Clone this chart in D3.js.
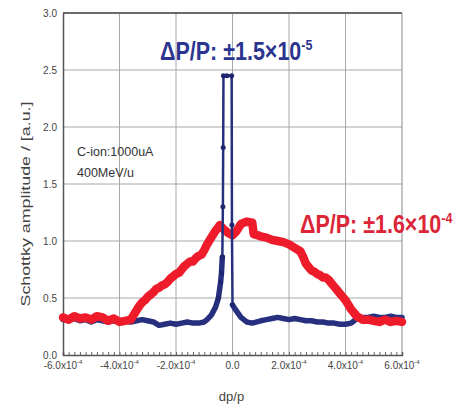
<!DOCTYPE html>
<html>
<head>
<meta charset="utf-8">
<script src="https://cdn.jsdelivr.net/npm/d3@7"></script>
<style>
  body { margin: 0; background: #fff; }
  svg { display: block; }
  svg text { font-family: "Liberation Sans", Arial, sans-serif; }
</style>
</head>
<body>
<svg id="chart" width="466" height="408"></svg>
<script>
// dp/p in units of 1e-4
var redX = [-6.0,-5.8,-5.6,-5.4,-5.2,-5.0,-4.8,-4.6,-4.4,-4.2,-4.0,-3.8,-3.6,-3.5,-3.4,-3.3,-3.2,-3.1,-3.0,-2.9,-2.8,-2.7,-2.6,-2.5,-2.4,-2.3,-2.2,-2.1,-2.0,-1.9,-1.8,-1.7,-1.6,-1.5,-1.4,-1.3,-1.2,-1.1,-1.0,-0.9,-0.8,-0.7,-0.6,-0.5,-0.45,-0.3,-0.15,0.0,0.15,0.3,0.5,0.7,0.75,0.9,1.0,1.2,1.4,1.6,1.8,2.0,2.2,2.4,2.5,2.6,2.7,2.8,2.9,3.0,3.1,3.2,3.3,3.4,3.5,3.6,3.7,3.8,3.9,4.0,4.1,4.2,4.3,4.4,4.6,4.8,5.0,5.2,5.4,5.6,5.8,6.0];
var redY = [0.33,0.31,0.34,0.32,0.33,0.31,0.34,0.33,0.30,0.32,0.29,0.30,0.31,0.35,0.39,0.43,0.46,0.48,0.51,0.53,0.55,0.58,0.59,0.61,0.62,0.64,0.67,0.69,0.71,0.72,0.75,0.78,0.80,0.82,0.82,0.85,0.87,0.88,0.92,0.97,1.01,1.05,1.09,1.12,1.14,1.10,1.07,1.05,1.09,1.15,1.17,1.16,1.06,1.05,1.04,1.03,1.01,1.00,0.99,0.97,0.94,0.91,0.86,0.80,0.77,0.74,0.73,0.71,0.70,0.68,0.68,0.66,0.63,0.60,0.57,0.54,0.51,0.48,0.44,0.40,0.37,0.34,0.31,0.31,0.30,0.29,0.31,0.29,0.30,0.29];

var blueX = [-6.0,-5.8,-5.6,-5.4,-5.2,-5.0,-4.8,-4.6,-4.4,-4.2,-4.0,-3.8,-3.6,-3.4,-3.2,-3.0,-2.8,-2.6,-2.4,-2.2,-2.0,-1.8,-1.6,-1.4,-1.2,-1.0,-0.9,-0.75,-0.6,-0.5,-0.42,-0.39,-0.36,-0.34,-0.33,-0.32,-0.2,-0.03,-0.02,0.0,0.1,0.3,0.5,0.7,1.0,1.2,1.4,1.6,1.8,2.0,2.2,2.4,2.6,2.8,3.0,3.2,3.4,3.6,3.8,4.0,4.2,4.4,4.6,4.8,5.0,5.2,5.4,5.6,5.8,6.0];
var blueY = [0.31,0.30,0.32,0.30,0.31,0.29,0.31,0.30,0.29,0.30,0.29,0.30,0.29,0.30,0.31,0.30,0.29,0.26,0.27,0.28,0.27,0.28,0.29,0.28,0.28,0.29,0.31,0.35,0.42,0.50,0.64,0.72,0.86,1.30,1.82,2.45,2.45,2.45,1.14,0.44,0.40,0.33,0.29,0.28,0.30,0.31,0.32,0.33,0.32,0.31,0.32,0.31,0.30,0.30,0.29,0.29,0.28,0.28,0.27,0.27,0.28,0.32,0.33,0.33,0.34,0.33,0.33,0.34,0.33,0.33];

var xTicks = [-6, -4, -2, 0, 2, 4, 6];
var xTickText = ["-6.0x10", "-4.0x10", "-2.0x10", "0.0", "2.0x10", "4.0x10", "6.0x10"];
var yTicks = [0, 0.5, 1.0, 1.5, 2.0, 2.5, 3.0];

var FONT = "'Liberation Sans', Arial, sans-serif";

var svg = d3.select("#chart");
var margin = {left: 63, top: 13, right: 64, bottom: 53};
var W = 466 - margin.left - margin.right,
    H = 408 - margin.top - margin.bottom;

var x = d3.scaleLinear().domain([-6, 6]).range([0, W]);
var y = d3.scaleLinear().domain([0, 3]).range([H, 0]);

var g = svg.append("g").attr("transform", "translate(" + margin.left + "," + margin.top + ")");

// grid
g.append("g").selectAll("line").data(xTicks.slice(1, -1)).enter().append("line")
    .attr("x1", function(d) { return x(d); }).attr("x2", function(d) { return x(d); })
    .attr("y1", 0).attr("y2", H)
    .attr("stroke", "#a8a8a8").attr("stroke-width", 1);
g.append("g").selectAll("line").data(yTicks.slice(1, -1)).enter().append("line")
    .attr("x1", 0).attr("x2", W)
    .attr("y1", function(d) { return y(d); }).attr("y2", function(d) { return y(d); })
    .attr("stroke", "#a8a8a8").attr("stroke-width", 1);

// frame
g.append("line").attr("x1", 0).attr("x2", W).attr("y1", 0).attr("y2", 0)
    .attr("stroke", "#6a6a6a").attr("stroke-width", 2);
g.append("line").attr("x1", W).attr("x2", W).attr("y1", 0).attr("y2", H)
    .attr("stroke", "#8a8a8a").attr("stroke-width", 1);

// x axis with minor ticks pointing up
var xAxis = d3.axisBottom(x).tickValues(d3.range(-6, 6.01, 0.2)).tickSize(-3).tickFormat("");
var xa = g.append("g").attr("transform", "translate(0," + H + ")").call(xAxis);
xa.select(".domain").attr("stroke", "#555").attr("stroke-width", 1.5);
xa.selectAll(".tick line").attr("stroke", "#666");

var yAxis = d3.axisLeft(y).tickValues(yTicks).tickSize(0).tickPadding(6)
    .tickFormat(d3.format(".1f"));
var ya = g.append("g").call(yAxis).attr("font-family", FONT);
ya.select(".domain").attr("stroke", "#555").attr("stroke-width", 1.5);
ya.selectAll(".tick text").attr("font-size", 10).attr("fill", "#444");

// x tick labels with superscript
var xl = g.append("g").selectAll("text").data(xTicks).enter().append("text")
    .attr("x", function(d) { return x(d); })
    .attr("y", H + 14)
    .attr("text-anchor", "middle")
    .attr("font-size", 10)
    .attr("fill", "#444");
xl.append("tspan").text(function(d, i) { return xTickText[i]; });
xl.filter(function(d) { return d !== 0; }).append("tspan")
    .attr("dy", -5).attr("font-size", 6).text("-4");

// axis titles
svg.append("text")
    .attr("transform", "translate(30,204) rotate(-90)")
    .attr("text-anchor", "middle")
    .attr("font-size", 12)
    .attr("fill", "#444")
    .attr("textLength", 205).attr("lengthAdjust", "spacingAndGlyphs")
    .text("Schottky amplitude / [a.u.]");
svg.append("text")
    .attr("x", margin.left + x(0) - 1).attr("y", 401)
    .attr("text-anchor", "middle")
    .attr("font-size", 13)
    .attr("fill", "#444")
    .text("dp/p");

// curves
var line = d3.line()
    .x(function(d) { return x(d[0]); })
    .y(function(d) { return y(d[1]); });

var blue = blueX.map(function(v, i) { return [v, blueY[i]]; });
var red = redX.map(function(v, i) { return [v, redY[i]]; });
var bluePeak = blue.filter(function(d) { return d[0] > -0.55 && d[0] < 0.05; });

[blue.filter(function(d) { return d[0] <= -0.36; }),
 blue.filter(function(d) { return d[0] >= 0.0; })].forEach(function(part) {
    g.append("path").datum(part)
        .attr("d", line).attr("fill", "none")
        .attr("stroke", "#26307f").attr("stroke-width", 5.5)
        .attr("stroke-linejoin", "round").attr("stroke-linecap", "round");
});

g.append("path").datum(red)
    .attr("d", line).attr("fill", "none")
    .attr("stroke", "#ee1c2a").attr("stroke-width", 8.5)
    .attr("stroke-linejoin", "round").attr("stroke-linecap", "round");

g.append("path").datum(bluePeak)
    .attr("d", line).attr("fill", "none")
    .attr("stroke", "#26307f").attr("stroke-width", 2.5);
g.append("g").selectAll("circle").data(bluePeak).enter().append("circle")
    .attr("cx", function(d) { return x(d[0]); })
    .attr("cy", function(d) { return y(d[1]); })
    .attr("r", 2.5)
    .attr("fill", "#1f2670");

// annotations
g.append("text").attr("x", 14).attr("y", 143)
    .attr("font-size", 12.5).attr("fill", "#333").text("C-ion:1000uA");
g.append("text").attr("x", 14).attr("y", 164)
    .attr("font-size", 12.5).attr("fill", "#333").text("400MeV/u");

function note(px, py, txt, sup, col) {
    var t = svg.append("g").attr("transform", "translate(" + px + "," + py + ") scale(1,1.22)")
        .append("text").attr("font-size", 21.5).attr("font-weight", "bold").attr("fill", col);
    t.append("tspan").text(txt);
    t.append("tspan").attr("dy", -8).attr("font-size", 12.5).text(sup);
}
note(160, 60, "\u0394P/P: \u00b11.5\u00d710", "-5", "#2b3590");
note(300, 233, "\u0394P/P: \u00b11.6\u00d710", "-4", "#dc2638");
</script>
</body>
</html>
